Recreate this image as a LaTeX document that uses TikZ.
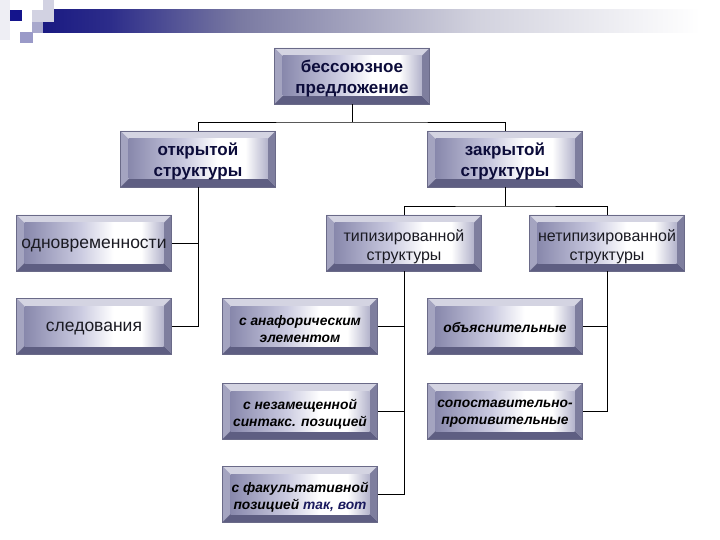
\documentclass[tikz,border=0pt]{standalone}
\usepackage{fontspec}
\setmainfont{Liberation Sans}
\definecolor{bvtop}{HTML}{D4D4E2}
\definecolor{bvleft}{HTML}{A4A4C0}
\definecolor{bvright}{HTML}{7E7E9E}
\definecolor{bvbot}{HTML}{5E5E82}
\definecolor{bvline}{HTML}{6A6A88}
\definecolor{bxA}{HTML}{8888AC}
\definecolor{bxB}{HTML}{CACAE0}
\definecolor{bxC}{HTML}{B4B4CC}
\definecolor{hdrtxt}{HTML}{0C0C3A}
\definecolor{regtxt}{HTML}{1A1A22}
\definecolor{navytxt}{HTML}{1A1A5E}
\definecolor{barA}{HTML}{1A1A82}
\definecolor{barB}{HTML}{2C2C8A}
\definecolor{barC}{HTML}{7A7AA2}
\definecolor{barD}{HTML}{D2D2DE}
\definecolor{sqA}{HTML}{EEEEF4}
\definecolor{sqB}{HTML}{D2D2E2}
\definecolor{sqC}{HTML}{A8A8CC}
\definecolor{sqD}{HTML}{9A9AC8}
\definecolor{sqE}{HTML}{14148C}
\pgfdeclarehorizontalshading{barshade}{100bp}{color(0bp)=(barA); color(25bp)=(barA); color(30bp)=(barB); color(40bp)=(barC); color(58bp)=(barD); color(75bp)=(white); color(100bp)=(white)}
\pgfdeclarehorizontalshading{boxshade}{100bp}{color(0bp)=(bxA); color(25bp)=(bxA); color(45bp)=(bxB); color(57bp)=(white); color(67bp)=(white); color(75bp)=(bxC); color(100bp)=(bxC)}
\begin{document}
\begin{tikzpicture}[x=1pt,y=-1pt,
  bevelbox/.style={rectangle, minimum width=155pt, minimum height=56pt, inner sep=0pt,
    draw=bvline, line width=0.5pt,
    path picture={
      \path (path picture bounding box.north west) coordinate (pNW)
            (path picture bounding box.north east) coordinate (pNE)
            (path picture bounding box.south west) coordinate (pSW)
            (path picture bounding box.south east) coordinate (pSE);
      \fill[bvtop] (pNW) -- (pNE) -- ([shift={(-8pt,-8pt)}]pNE) -- ([shift={(8pt,-8pt)}]pNW) -- cycle;
      \fill[bvleft] (pNW) -- ([shift={(8pt,-8pt)}]pNW) -- ([shift={(8pt,8pt)}]pSW) -- (pSW) -- cycle;
      \fill[bvright] (pNE) -- (pSE) -- ([shift={(-8pt,8pt)}]pSE) -- ([shift={(-8pt,-8pt)}]pNE) -- cycle;
      \fill[bvbot] (pSW) -- (pSE) -- ([shift={(-8pt,8pt)}]pSE) -- ([shift={(8pt,8pt)}]pSW) -- cycle;
      \shade[shading=boxshade] ([shift={(8pt,-8pt)}]pNW) rectangle ([shift={(-8pt,8pt)}]pSE);
    }},
  txt/.style={inner sep=0pt, align=center},
  hdrt/.style={txt, font=\fontsize{17}{21}\selectfont\bfseries, text=hdrtxt},
  regt/.style={txt, font=\fontsize{16}{19}\selectfont, text=regtxt},
  regonet/.style={txt, font=\fontsize{17.5}{20}\selectfont, text=regtxt},
  italt/.style={txt, font=\fontsize{13.8}{17}\selectfont\bfseries\itshape, text=black},
  conn/.style={draw=black, line width=0.9pt}]
\useasboundingbox (0,0) rectangle (720,540);
\fill[white] (0,0) rectangle (720,540);
% header decoration
\fill[sqA] (0,0) rectangle (10,40);
\shade[shading=barshade] (43,10) rectangle (700,33);
\fill[sqB] (43,0) rectangle (54,22);
\fill[sqB] (32,10) rectangle (43,22);
\fill[sqC] (32,22) rectangle (43,33);
\fill[sqD] (20,32) rectangle (33,43);
\fill[sqE] (10,10) rectangle (22,21);
% boxes
\node[bevelbox] (top) at (352,76) {};
\node[bevelbox] (open) at (198,159) {};
\node[bevelbox] (closed) at (505,159) {};
\node[bevelbox] (odn) at (94,243) {};
\node[bevelbox] (sled) at (94,326) {};
\node[bevelbox] (typ) at (404,243) {};
\node[bevelbox] (netyp) at (607,243) {};
\node[bevelbox] (anaf) at (300,326) {};
\node[bevelbox] (obj) at (505,326) {};
\node[bevelbox] (nezam) at (300,411) {};
\node[bevelbox] (sopost) at (505,411) {};
\node[bevelbox] (fak) at (300,494) {};
% texts
\node[hdrt] (top-t) at ([yshift=-2.5pt]top.center) {бессоюзное\\предложение};
\node[hdrt] (open-t) at ([yshift=-2.5pt]open.center) {открытой\\структуры};
\node[hdrt] (closed-t) at ([yshift=-2.5pt]closed.center) {закрытой\\структуры};
\node[regonet] (odn-t) at ([yshift=-3pt]odn.center) {одновременности};
\node[regonet] (sled-t) at ([yshift=-3pt]sled.center) {следования};
\node[regt] (typ-t) at ([yshift=-3.5pt]typ.center) {типизированной\\структуры};
\node[regt] (netyp-t) at ([yshift=-3.5pt]netyp.center) {нетипизированной\\структуры};
\node[italt] (anaf-t) at ([yshift=-3pt]anaf.center) {с анафорическим\\элементом};
\node[italt] (obj-t) at ([yshift=-2pt]obj.center) {объяснительные};
\node[italt] (nezam-t) at ([yshift=-3pt]nezam.center) {с незамещенной\\синтакс. позицией};
\node[italt] (sopost-t) at ([yshift=-3pt]sopost.center) {сопоставительно-\\противительные};
\node[italt] (fak-t) at ([yshift=-3pt]fak.center) {с факультативной\\позицией \textcolor{navytxt}{так, вот}};
% connectors
\coordinate (j1) at (352,122);
\coordinate (j2) at (505,206);
\draw[conn] (top.south) -- (j1);
\draw[conn] (open.north) |- (j1) -| (closed.north);
\draw[conn] (open.south) |- (odn.east);
\draw[conn] (open.south) |- (sled.east);
\draw[conn] (closed.south) -- (j2);
\draw[conn] (typ.north) |- (j2) -| (netyp.north);
\draw[conn] (typ.south) |- (anaf.east);
\draw[conn] (typ.south) |- (nezam.east);
\draw[conn] (typ.south) |- (fak.east);
\draw[conn] (netyp.south) |- (obj.east);
\draw[conn] (netyp.south) |- (sopost.east);
\end{tikzpicture}
\end{document}
